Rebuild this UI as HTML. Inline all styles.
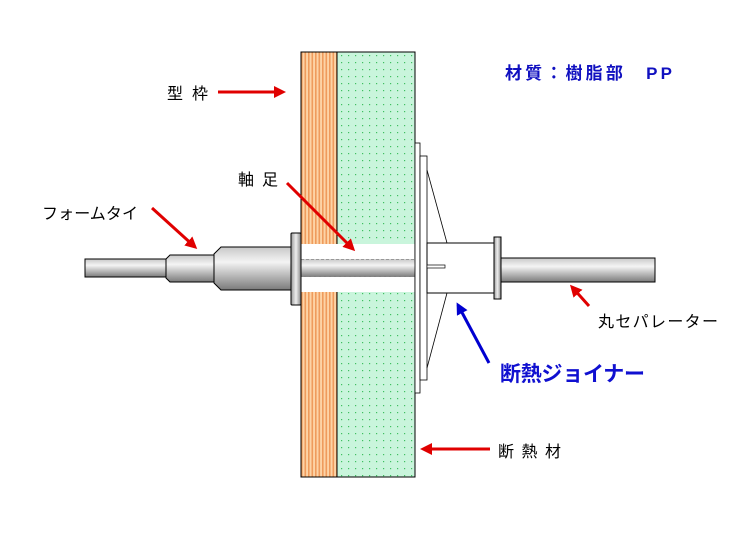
<!DOCTYPE html>
<html><head><meta charset="utf-8"><style>body{margin:0;background:#fff}svg{display:block}</style></head><body>
<svg width="750" height="542" viewBox="0 0 750 542" xmlns="http://www.w3.org/2000/svg" font-family="'Liberation Sans','Noto Sans CJK JP',sans-serif">
<defs>
<pattern id="wood" x="301" y="0" width="3.5" height="10" patternUnits="userSpaceOnUse"><rect width="3.5" height="10" fill="#fdd3a6"/><rect width="1.6" height="10" fill="#ef9b5c"/></pattern>
<pattern id="dots" x="338" y="52" width="7" height="7" patternUnits="userSpaceOnUse"><rect width="7" height="7" fill="#c9f5dc"/><rect x="3" y="3" width="1.2" height="1.2" fill="#3fbf60"/></pattern>
<linearGradient id="g" x1="0" y1="0" x2="0" y2="1"><stop offset="0" stop-color="#c8c8c8"/><stop offset="0.35" stop-color="#f4f4f4"/><stop offset="1" stop-color="#7a7a7a"/></linearGradient>
<linearGradient id="gh" x1="0" y1="0" x2="1" y2="0"><stop offset="0" stop-color="#999"/><stop offset="0.5" stop-color="#eee"/><stop offset="1" stop-color="#888"/></linearGradient>
<marker id="ar" markerWidth="4" markerHeight="4" refX="3" refY="2" orient="auto" markerUnits="strokeWidth"><path d="M0,0L4,2L0,4z" fill="#e00000"/></marker>
<marker id="ab" markerWidth="4" markerHeight="4" refX="3" refY="2" orient="auto" markerUnits="strokeWidth"><path d="M0,0L4,2L0,4z" fill="#0000d0"/></marker>
</defs>
<rect x="301" y="52" width="36" height="425" fill="url(#wood)" stroke="#000" stroke-width="1"/>
<rect x="337" y="52" width="78" height="425" fill="url(#dots)" stroke="#000" stroke-width="1"/>
<rect x="301.5" y="244" width="113" height="48" fill="#fff"/>
<rect x="301" y="259" width="114" height="18" fill="url(#g)"/>
<line x1="301" y1="259.5" x2="415" y2="259.5" stroke="#888" stroke-width="0.7" stroke-dasharray="3,2"/>
<line x1="301" y1="276.5" x2="415" y2="276.5" stroke="#888" stroke-width="0.7" stroke-dasharray="3,2"/>
<rect x="85" y="259" width="82" height="18" fill="url(#g)" stroke="#000"/>
<path d="M170,255H214V282H170L166,278V259Z" fill="url(#g)" stroke="#000"/>
<path d="M221,247H291V290H221L214,283V254Z" fill="url(#g)" stroke="#000"/>
<rect x="291" y="233" width="10" height="72" rx="1" fill="url(#gh)" stroke="#000"/>
<rect x="415" y="143" width="5" height="250" fill="#fff" stroke="#000" stroke-width="0.8"/>
<rect x="420" y="156" width="7" height="224" fill="#fff" stroke="#000" stroke-width="0.8"/>
<line x1="427" y1="170" x2="447" y2="243" stroke="#000" stroke-width="0.8"/>
<line x1="427" y1="368" x2="447" y2="293" stroke="#000" stroke-width="0.8"/>
<rect x="427" y="243" width="67" height="50" fill="#fff" stroke="#000"/>
<rect x="427" y="265" width="18" height="3" fill="#fff" stroke="#000" stroke-width="0.7"/>
<rect x="501" y="258" width="154" height="24" fill="url(#g)" stroke="#000"/>
<rect x="494" y="237" width="7" height="62" fill="url(#gh)" stroke="#000"/>
<g stroke="#e00000" stroke-width="3" fill="none">
<line x1="218" y1="92" x2="283" y2="92" marker-end="url(#ar)"/>
<line x1="287" y1="183" x2="353" y2="249" marker-end="url(#ar)"/>
<line x1="152" y1="208" x2="195" y2="247" marker-end="url(#ar)"/>
<line x1="589" y1="306" x2="572" y2="287" marker-end="url(#ar)"/>
<line x1="490" y1="449" x2="423" y2="449" marker-end="url(#ar)"/>
</g>
<line x1="489" y1="363" x2="458" y2="305" stroke="#0000d0" stroke-width="3" marker-end="url(#ab)"/>
<g font-size="16" fill="#000">
<text x="167" y="99" textLength="41">型 枠</text>
<text x="238" y="185" textLength="40">軸 足</text>
<text x="42" y="219" textLength="96">フォームタイ</text>
<text x="598" y="327" textLength="120">丸セパレーター</text>
<text x="498" y="457" textLength="63">断 熱 材</text>
</g>
<text x="505" y="79" font-size="17" font-weight="bold" fill="#1010c0" textLength="167">材質：樹脂部　PP</text>
<text x="500" y="381" font-size="21" font-weight="bold" fill="#1010d0" textLength="145">断熱ジョイナー</text>
</svg>
</body></html>
